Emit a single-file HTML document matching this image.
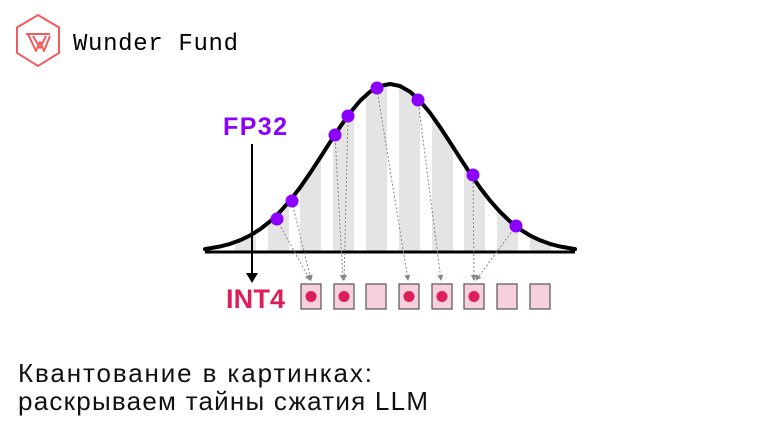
<!DOCTYPE html>
<html><head><meta charset="utf-8"><style>
html,body{margin:0;padding:0;background:#fff}
svg{display:block}
</style></head><body>
<svg width="780" height="440" viewBox="0 0 780 440" xmlns="http://www.w3.org/2000/svg">
<defs>
<clipPath id="c"><path d="M205,252 L205,249.1 L220,246.5 L230,243.9 L240,240.3 L250,235.5 L260,229.3 L270,221.4 L280,211.8 L290,200.6 L300,187.6 L310,173.2 L320,157.9 L330,142.3 L340,127 L350,112.9 L360,100.9 L370,91.7 L380,86 L390,84 L400,86 L410,91.7 L420,100.9 L430,112.9 L440,127 L450,142.3 L460,157.9 L470,173.2 L480,187.6 L490,200.6 L500,211.8 L510,221.4 L520,229.3 L530,235.5 L540,240.3 L550,243.9 L560,246.5 L575,249.1 L575,252 Z"/></clipPath>
<marker id="ah" markerWidth="6" markerHeight="6" refX="5" refY="3" orient="auto"><path d="M0,0 L6,3 L0,6 Z" fill="#888"/></marker>
</defs>
<polygon points="38,15 59,27.5 59,53 38,66 17,53 17,27.5" fill="none" stroke="#f25c5c" stroke-width="2"/>
<path d="M26,34 L50,34 M28,34 L36,51 L40,42 L44,51 L50,36 M33,36 L40,48 L46,36" fill="none" stroke="#f25c5c" stroke-width="2" stroke-linejoin="round"/>
<text x="73" y="50" font-family="Liberation Mono, monospace" font-size="24" textLength="165" fill="#000">Wunder Fund</text>
<g clip-path="url(#c)" fill="#e4e4e4">
<rect x="235" y="80" width="21" height="172"/><rect x="268" y="80" width="21" height="172"/>
<rect x="300" y="80" width="21" height="172"/><rect x="333" y="80" width="21" height="172"/>
<rect x="366" y="80" width="21" height="172"/><rect x="399" y="80" width="21" height="172"/>
<rect x="432" y="80" width="21" height="172"/><rect x="464" y="80" width="21" height="172"/>
<rect x="497" y="80" width="21" height="172"/><rect x="530" y="80" width="21" height="172"/>
</g>
<polyline points="205,249.1 220,246.5 230,243.9 240,240.3 250,235.5 260,229.3 270,221.4 280,211.8 290,200.6 300,187.6 310,173.2 320,157.9 330,142.3 340,127 350,112.9 360,100.9 370,91.7 380,86 390,84 400,86 410,91.7 420,100.9 430,112.9 440,127 450,142.3 460,157.9 470,173.2 480,187.6 490,200.6 500,211.8 510,221.4 520,229.3 530,235.5 540,240.3 550,243.9 560,246.5 575,249.1" fill="none" stroke="#000" stroke-width="4" stroke-linejoin="round" stroke-linecap="round"/>
<line x1="205" y1="252" x2="575" y2="252" stroke="#000" stroke-width="3"/>
<g stroke="#888" stroke-width="1" stroke-dasharray="2,2" marker-end="url(#ah)">
<line x1="277" y1="220" x2="310" y2="280"/><line x1="292" y1="202" x2="311" y2="280"/>
<line x1="335" y1="135" x2="343" y2="280"/><line x1="348" y1="117" x2="344" y2="280"/>
<line x1="377" y1="89" x2="408" y2="280"/><line x1="418" y1="100" x2="441" y2="280"/>
<line x1="473" y1="174" x2="474" y2="280"/><line x1="516" y1="226" x2="476" y2="280"/>
</g>
<g fill="#8b00ff">
<circle cx="277" cy="219" r="6.5"/><circle cx="292" cy="201" r="6.5"/><circle cx="335" cy="135" r="6.5"/><circle cx="348" cy="116" r="6.5"/>
<circle cx="377" cy="88" r="6.5"/><circle cx="418" cy="100" r="6.5"/><circle cx="473" cy="175" r="6.5"/><circle cx="516" cy="226" r="6.5"/>
</g>
<text x="223" y="135" font-family="Liberation Sans, sans-serif" font-weight="bold" font-size="25" textLength="64" fill="#8b00ff">FP32</text>
<line x1="252" y1="144" x2="252" y2="274" stroke="#000" stroke-width="2"/>
<path d="M246,273 L258,273 L252,283 Z" fill="#000"/>
<text x="226" y="308" font-family="Liberation Sans, sans-serif" font-weight="bold" font-size="27" textLength="59" fill="#dc1e5a">INT4</text>
<g fill="#f7d0de" stroke="#555" stroke-width="1.2">
<rect x="301" y="284" width="20" height="25"/><rect x="334" y="284" width="20" height="25"/>
<rect x="366" y="284" width="20" height="25"/><rect x="399" y="284" width="20" height="25"/>
<rect x="432" y="284" width="20" height="25"/><rect x="464" y="284" width="20" height="25"/>
<rect x="497" y="284" width="20" height="25"/><rect x="530" y="284" width="20" height="25"/>
</g>
<g fill="#dc1e5a">
<circle cx="311" cy="296.5" r="5.5"/><circle cx="344" cy="296.5" r="5.5"/><circle cx="409" cy="296.5" r="5.5"/>
<circle cx="442" cy="296.5" r="5.5"/><circle cx="474" cy="296.5" r="5.5"/>
</g>
<text x="18" y="382" font-family="Liberation Sans, sans-serif" font-size="26" textLength="354" fill="#111">Квантование в картинках:</text>
<text x="18" y="410" font-family="Liberation Sans, sans-serif" font-size="26" textLength="410" fill="#111">раскрываем тайны сжатия LLM</text>
</svg>
</body></html>
